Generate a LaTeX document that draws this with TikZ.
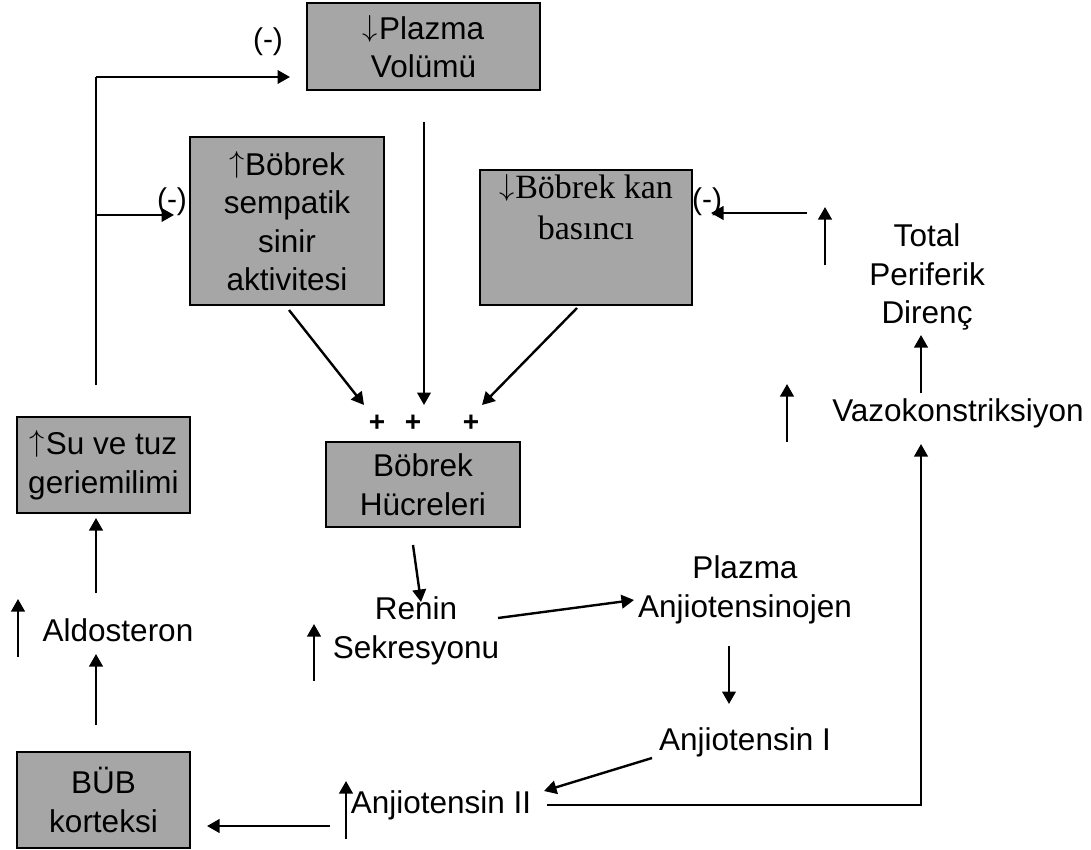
\documentclass[tikz,border=0pt]{standalone}
\usepackage{fontspec}
\usepackage{graphicx}
\setmainfont{Liberation Sans}
\newfontfamily\seriffont{Liberation Serif}
\newcommand{\upar}{\raisebox{3pt}{\resizebox*{!}{27pt}{$\uparrow$}}\kern1pt}
\newcommand{\dnar}{\raisebox{3pt}{\resizebox*{!}{27pt}{$\downarrow$}}\kern1pt}
\usetikzlibrary{arrows.meta}
\begin{document}
\begin{tikzpicture}[x=1pt,y=-1pt,
  every node/.style={font=\fontsize{31.5}{38.5}\selectfont, align=center, inner sep=0pt},
  box/.style={draw=black, line width=2.4pt, fill=boxgray},
  conn/.style={line width=2.4pt, -{Triangle[length=12.5pt,width=13.5pt]}},
  plain/.style={line width=2.4pt},
  plus/.style={font=\bfseries\fontsize{28}{34}\selectfont},
  neg/.style={font=\fontsize{30}{36}\selectfont}]
\definecolor{boxgray}{RGB}{166,166,166}
\useasboundingbox (0,0) rectangle (1091,849);
% boxes
\node[box, minimum width=233pt, minimum height=87pt] (pv) at (423.5,46.5) {\dnar Plazma\\Volümü};
\node[box, minimum width=194pt, minimum height=168pt] (sym) at (287,221) {\upar Böbrek\\sempatik\\sinir\\aktivitesi};
\node[box, minimum width=212pt, minimum height=135pt] (kan) at (586,237.5) {};
\node[font=\seriffont\fontsize{34}{41}\selectfont, anchor=north] (kantext) at (586,174) {\dnar Böbrek kan\\basıncı};
\node[box, minimum width=194pt, minimum height=85pt] (hc) at (423,484.5) {Böbrek\\Hücreleri};
\node[box, minimum width=173pt, minimum height=96pt] (su) at (103.5,465) {\upar Su ve tuz\\geriemilimi};
\node[box, minimum width=173pt, minimum height=96pt] (bub) at (103.5,800) {BÜB\\korteksi};
% free texts
\node (renin) at (416,631) {Renin\\Sekresyonu};
\node (ang) at (745,590) {Plazma\\Anjiotensinojen};
\node (a1) at (745,742) {Anjiotensin I};
\node (a2) at (441,805) {Anjiotensin II};
\node (aldo) at (118,630) {Aldosteron};
\node (vazo) at (958,413) {Vazokonstriksiyon};
\node (tpd) at (927,277) {Total\\Periferik\\Direnç};
% plus signs
\node[plus] (p1) at (377,423) {+};
\node[plus] (p2) at (413,423) {+};
\node[plus] (p3) at (471,423) {+};
% negative labels
\node[neg] (n1) at (268,42) {(-)};
\node[neg] (n2) at (172,202) {(-)};
\node[neg] (n3) at (707,202) {(-)};
% connector end points
\coordinate (pvA) at (424,122);   \coordinate (pvB) at (424,405);
\coordinate (symA) at (289,310);  \coordinate (symB) at (364,405);
\coordinate (kanA) at (577,308);  \coordinate (kanB) at (482,405);
\coordinate (hcA) at (413,545);   \coordinate (reninB) at (421,602);
\coordinate (reninA) at (498,618);\coordinate (angB) at (634,600);
\coordinate (angA) at (729,646);  \coordinate (a1B) at (729,704);
\coordinate (a1A) at (652,758);   \coordinate (a2B) at (544,791);
\coordinate (a2A) at (547,805);   \coordinate (a2turn) at (921,805); \coordinate (vazoB) at (921,444);
\coordinate (a2L) at (330,826);   \coordinate (bubB) at (207,826);
\coordinate (bubA) at (96,725);   \coordinate (aldoB) at (96,654);
\coordinate (aldoA) at (96,593);  \coordinate (suB) at (96,518);
\coordinate (fbBot) at (96,385);  \coordinate (fbTop) at (96,77); \coordinate (pvL) at (290,77);
\coordinate (fbMid) at (96,215);  \coordinate (symL) at (174,215);
\coordinate (vazoA) at (921,393); \coordinate (tpdB) at (921,335);
\coordinate (tpdA) at (807,213);  \coordinate (kanR) at (711,213);
% connectors
\draw[conn] (pvA) -- (pvB);
\draw[conn] (symA) -- (symB);
\draw[conn] (kanA) -- (kanB);
\draw[conn] (hcA) -- (reninB);
\draw[conn] (reninA) -- (angB);
\draw[conn] (angA) -- (a1B);
\draw[conn] (a1A) -- (a2B);
\draw[conn] (a2A) -- (a2turn) -- (vazoB);
\draw[conn] (a2L) -- (bubB);
\draw[conn] (bubA) -- (aldoB);
\draw[conn] (aldoA) -- (suB);
\draw[plain] (fbBot) -- (fbTop);
\draw[conn] (fbTop) -- (pvL);
\draw[conn] (fbMid) -- (symL);
\draw[conn] (vazoA) -- (tpdB);
\draw[conn] (tpdA) -- (kanR);
% standalone up arrows
\draw[conn] (18,657) -- (18,599);
\draw[conn] (314,681) -- (314,624);
\draw[conn] (346,839) -- (346,781);
\draw[conn] (787,442) -- (787,384);
\draw[conn] (825,265) -- (825,207);
\end{tikzpicture}
\end{document}
